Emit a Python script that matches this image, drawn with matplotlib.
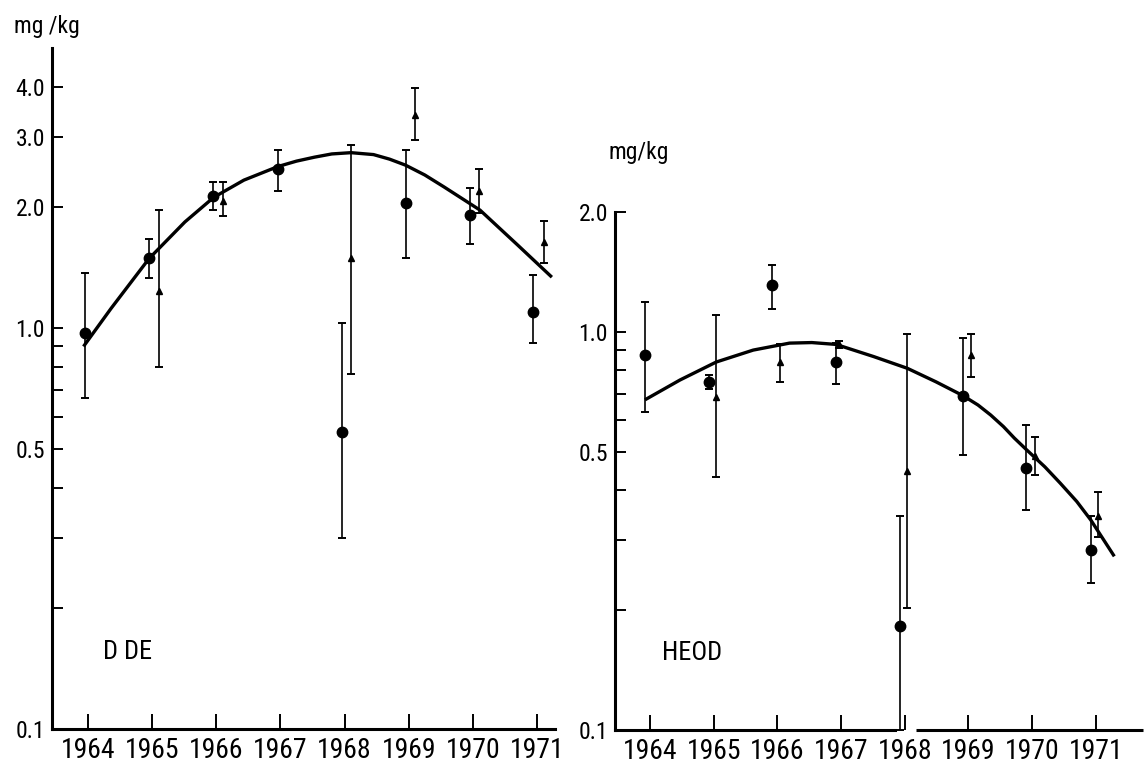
import matplotlib
matplotlib.use("Agg")
import matplotlib.pyplot as plt
from matplotlib import font_manager
from matplotlib.ticker import NullFormatter
import matplotlib.transforms as mtransforms

# ---------------- data ----------------
years = [1964, 1965, 1966, 1967, 1968, 1969, 1970, 1971]
year_labels = ["1964", "1965", "1966", "1967", "1968", "1969", "1970", "1971"]

# DDE panel
dde_circ_x = [1963.95, 1964.95, 1965.95, 1966.96, 1967.96, 1968.95, 1969.95, 1970.94]
dde_circ_y = [0.97, 1.50, 2.14, 2.50, 0.55, 2.05, 1.91, 1.10]
dde_circ_lo = [0.67, 1.33, 1.97, 2.20, 0.30, 1.50, 1.62, 0.92]
dde_circ_hi = [1.37, 1.67, 2.31, 2.79, 1.03, 2.79, 2.24, 1.36]

dde_tri_x = [1965.10, 1966.10, 1968.10, 1969.10, 1970.10, 1971.10]
dde_tri_y = [1.24, 2.08, 1.50, 3.40, 2.20, 1.64]
dde_tri_lo = [0.80, 1.90, 0.77, 2.94, 1.94, 1.45]
dde_tri_hi = [1.97, 2.31, 2.87, 3.97, 2.49, 1.85]

dde_fit_x = [1963.93, 1964.36, 1964.95, 1965.51, 1965.96, 1966.43, 1966.96, 1967.25, 1967.53,
             1967.80, 1968.10, 1968.45, 1968.70, 1968.95, 1969.25, 1969.55, 1970.11, 1970.70, 1971.23]
dde_fit_y = [0.90, 1.12, 1.49, 1.84, 2.12, 2.34, 2.53, 2.61, 2.67,
             2.72, 2.74, 2.71, 2.64, 2.55, 2.41, 2.25, 1.97, 1.61, 1.34]

# HEOD panel
heod_circ_x = [1963.92, 1964.92, 1965.91, 1966.92, 1967.93, 1968.91, 1969.91, 1970.92]
heod_circ_y = [0.875, 0.75, 1.31, 0.84, 0.182, 0.692, 0.456, 0.284]
heod_circ_lo = [0.63, 0.72, 1.14, 0.74, 0.100, 0.49, 0.356, 0.234]
heod_circ_hi = [1.19, 0.78, 1.47, 0.94, 0.344, 0.964, 0.584, 0.344]

heod_tri_x = [1965.04, 1966.04, 1966.96, 1968.04, 1969.04, 1970.04, 1971.03]
heod_tri_y = [0.687, 0.84, 0.93, 0.446, 0.875, 0.487, 0.344]
heod_tri_lo = [0.432, 0.75, 0.91, 0.202, 0.77, 0.437, 0.306]
heod_tri_hi = [1.10, 0.93, 0.95, 0.986, 0.99, 0.543, 0.397]

heod_fit_x = [1963.92, 1964.47, 1965.04, 1965.62, 1966.19, 1966.54, 1966.92, 1967.51,
              1968.04, 1968.49, 1968.91, 1969.15, 1969.35, 1969.55, 1969.72, 1969.91,
              1970.20, 1970.44, 1970.70, 1970.92, 1971.29]
heod_fit_y = [0.675, 0.757, 0.84, 0.90, 0.937, 0.94, 0.93, 0.867,
              0.81, 0.749, 0.692, 0.655, 0.618, 0.578, 0.541, 0.506,
              0.458, 0.417, 0.375, 0.337, 0.273]

dde_major = [0.1, 0.5, 1.0, 2.0, 3.0, 4.0]
dde_major_labels = ["0.1", "0.5", "1.0", "2.0", "3.0", "4.0"]
heod_major = [0.1, 0.5, 1.0, 2.0]
heod_major_labels = ["0.1", "0.5", "1.0", "2.0"]
minor_vals = [0.2, 0.3, 0.4, 0.6, 0.7, 0.8, 0.9]

# ---------------- fonts ----------------
names = {f.name for f in font_manager.fontManager.ttflist}
FAM = "Roboto"
xs, ys, ts, us = 17.5, 16, 19.5, 16
for cand in ["Liberation Sans Narrow", "Roboto Condensed", "Open Sans Condensed"]:
    if cand in names:
        FAM = cand
        xs, ys, ts, us = 20, 17, 19, 17
        break
if FAM not in names:
    FAM = "DejaVu Sans"
    xs, ys, ts, us = 14, 13, 15, 13
plt.rcParams["font.family"] = [FAM, "DejaVu Sans"]

fig = plt.figure(figsize=(11.44, 7.71), dpi=100)
ax1 = fig.add_axes([0.0455, 0.0545, 0.4397, 0.8833])
ax2 = fig.add_axes([0.5376, 0.0532, 0.4615, 0.6718])


def draw_panel(ax, cx, cy, clo, chi, tx, ty, tlo, thi, fx, fy):
    ax.plot(fx, fy, color="black", lw=2.4, solid_capstyle="butt",
            solid_joinstyle="round", zorder=3)
    ax.errorbar(cx, cy, yerr=[[v - l for v, l in zip(cy, clo)], [h - v for v, h in zip(cy, chi)]],
                fmt="o", ms=7.5, color="black", ecolor="black", elinewidth=1.2,
                capsize=2.7, capthick=1.4, zorder=4)
    ax.errorbar(tx, ty, yerr=[[v - l for v, l in zip(ty, tlo)], [h - v for v, h in zip(ty, thi)]],
                fmt="^", ms=5, color="black", ecolor="black", elinewidth=1.2,
                capsize=2.7, capthick=1.4, zorder=4)


draw_panel(ax1, dde_circ_x, dde_circ_y, dde_circ_lo, dde_circ_hi,
           dde_tri_x, dde_tri_y, dde_tri_lo, dde_tri_hi, dde_fit_x, dde_fit_y)
draw_panel(ax2, heod_circ_x, heod_circ_y, heod_circ_lo, heod_circ_hi,
           heod_tri_x, heod_tri_y, heod_tri_lo, heod_tri_hi, heod_fit_x, heod_fit_y)

for ax, major, mlabels, ylim, xlim in [
        (ax1, dde_major, dde_major_labels, (0.1, 5.0), (1963.44, 1971.28)),
        (ax2, heod_major, heod_major_labels, (0.1, 2.0), (1963.45, 1971.74))]:
    ax.set_yscale("log")
    ax.set_ylim(*ylim)
    ax.set_xlim(*xlim)
    ax.set_yticks(major)
    ax.set_yticklabels(mlabels, fontsize=ys)
    ax.set_yticks(minor_vals, minor=True)
    ax.yaxis.set_minor_formatter(NullFormatter())
    ax.set_xticks(years)
    ax.set_xticklabels(year_labels, fontsize=xs)
    ax.tick_params(axis="y", which="both", direction="in", length=8, width=1.4, pad=5)
    ax.tick_params(axis="x", which="major", direction="in", length=11, width=1.4, pad=6)
    ax.tick_params(axis="x", which="minor", bottom=False)
    for s in ["top", "right"]:
        ax.spines[s].set_visible(False)
    for s in ["left", "bottom"]:
        ax.spines[s].set_linewidth(2.2)
    ax.patch.set_alpha(0)

# gap in the HEOD x axis at 1968
ax2.spines["bottom"].set_bounds(1963.45, 1967.85)
trans = mtransforms.blended_transform_factory(ax2.transData, ax2.transAxes)
ax2.plot([1968.18, 1971.74], [0, 0], transform=trans, color="black", lw=2.2,
         clip_on=False, solid_capstyle="butt")

ax1.text(1964.24, 0.156, "D DE", fontsize=ts, va="center", ha="left")
ax2.text(1964.18, 0.156, "HEOD", fontsize=ts, va="center", ha="left")

fig.text(14 / 1144, 1 - 27 / 771, "mg /kg", fontsize=us, ha="left", va="center")
fig.text(609 / 1144, 1 - 152 / 771, "mg/kg", fontsize=us, ha="left", va="center")

fig.savefig("out.png", dpi=100, facecolor="white")
